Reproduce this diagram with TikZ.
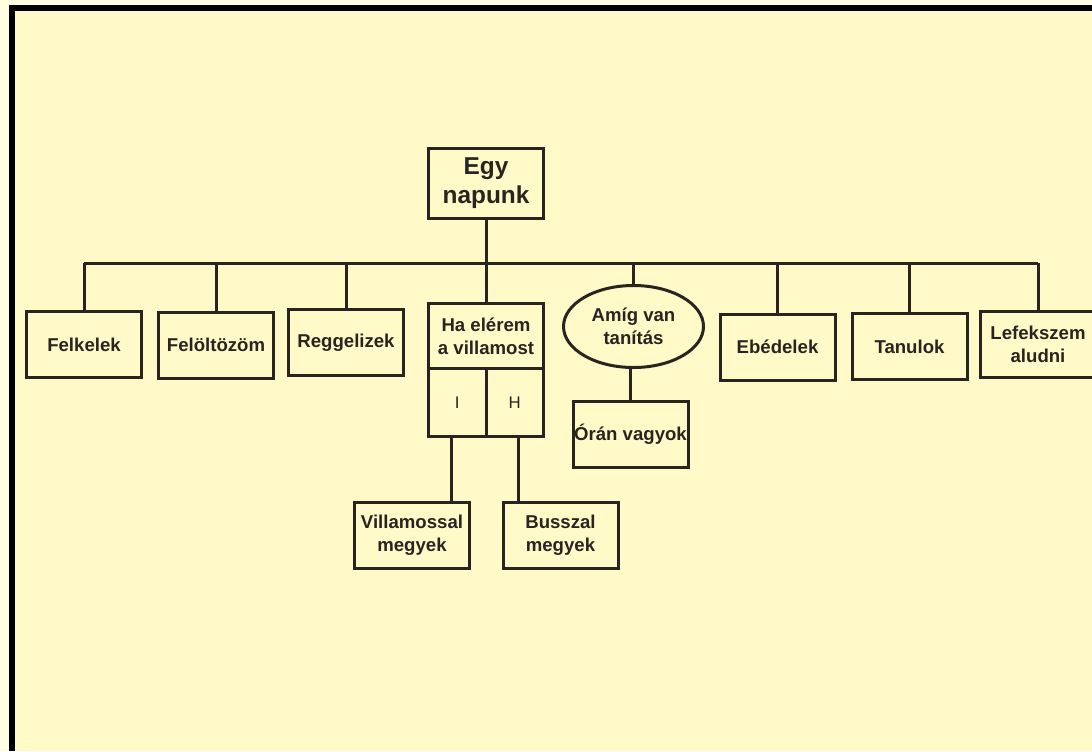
\documentclass[tikz,border=0pt]{standalone}
\usepackage{fontspec}
\setmainfont{Liberation Sans}
\usetikzlibrary{shapes.geometric, calc}
\definecolor{paper}{HTML}{FFFAC8}
\definecolor{margin}{HTML}{FFFDE2}
\definecolor{ink}{HTML}{2A2420}

\begin{document}
\begin{tikzpicture}[x=0.5pt, y=-0.5pt]
        \tikzstyle{box}=[draw=ink, line width=1.5pt, minimum width=57.5pt, minimum height=33pt, inner sep=0pt, outer sep=0pt, align=center, font=\fontsize{9.3}{11.5}\selectfont\bfseries, text=ink]
        \tikzstyle{cell}=[draw=ink, line width=1.5pt, minimum width=28.75pt, minimum height=34pt, inner sep=0pt, outer sep=0pt, font=\fontsize{8.4}{10}\selectfont, text=ink]
        \tikzstyle{line}=[draw=ink, line width=1.5pt]

        % page and frame
        \useasboundingbox (0,0) rectangle (1092,751);
        \clip (0,0) rectangle (1092,751);
        \fill[margin] (0,0) rectangle (1092,751);
        \fill[paper] (9,5) rectangle (1092,751);
        \fill[black] (9,5) rectangle (1092,11);
        \fill[black] (9,5) rectangle (15,751);

        \node[box, minimum height=35pt, font=\fontsize{12.2}{14.5}\selectfont\bfseries] (egy) at (486,183) {Egy\\napunk};
        \coordinate (bar) at (486,263);

        \node[box] (felkelek) at (84,344.5) {Felkelek};
        \node[box] (feloltozom) at (216,345) {Felöltözöm};
        \node[box] (reggelizek) at (346,342.5) {Reggelizek};
        \node[box, minimum height=32.5pt] (ha) at (486,336) {Ha elérem\\a villamost};
        \node[cell, anchor=north east] (icell) at (ha.south) {I};
        \node[cell, anchor=north west] (hcell) at (ha.south) {H};
        \node[ellipse, draw=ink, line width=1.5pt, minimum width=70pt, minimum height=41pt, inner sep=0pt, outer sep=0pt, align=center, font=\fontsize{9.3}{11.5}\selectfont\bfseries, text=ink] (amig) at (633.5,326.5) {Amíg van\\tanítás};
        \node[box] (oran) at (630.5,434) {Órán vagyok};
        \node[box] (ebedelek) at (777.5,347) {Ebédelek};
        \node[box] (tanulok) at (909.5,346.5) {Tanulok};
        \node[box] (lefekszem) at (1038,344) {Lefekszem\\aludni};

        \node[box] (villamos) at (412,535.5) {Villamossal\\megyek};
        \node[box] (busz) at (560.5,535.5) {Busszal\\megyek};

        \draw[line] (egy.south) -- (bar);
        \draw[line] (felkelek.north |- bar) -- (lefekszem.north |- bar);
        \draw[line] (felkelek.north |- bar) -- (felkelek.north);
        \draw[line] (feloltozom.north |- bar) -- (feloltozom.north);
        \draw[line] (reggelizek.north |- bar) -- (reggelizek.north);
        \draw[line] (bar) -- (ha.north);
        \draw[line] (amig.north |- bar) -- (amig.north);
        \draw[line] (ebedelek.north |- bar) -- (ebedelek.north);
        \draw[line] (tanulok.north |- bar) -- (tanulok.north);
        \draw[line] (lefekszem.north |- bar) -- (lefekszem.north);

        \draw[line] ([xshift=-1.5pt]amig.south) -- ([xshift=-1.5pt]amig.south |- oran.north);
        \draw[line] ([xshift=-3pt]icell.south) -- ([xshift=-3pt]icell.south |- villamos.north);
        \draw[line] ([xshift=2pt]hcell.south) -- ([xshift=2pt]hcell.south |- busz.north);
    \end{tikzpicture}
\end{document}
